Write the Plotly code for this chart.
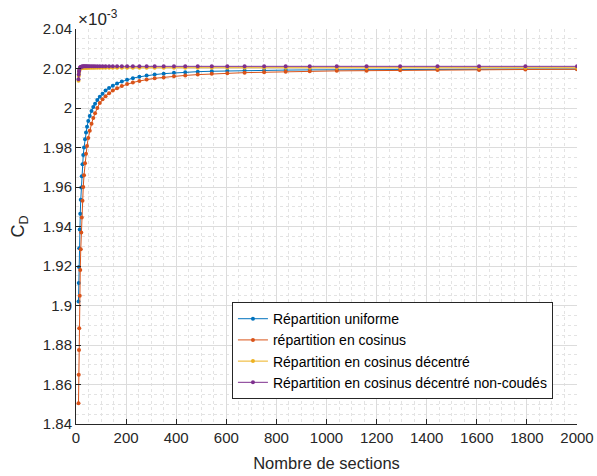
import plotly.graph_objects as go

# Number of sections (x values)
sections = [10, 11, 12, 13, 15, 17, 19, 21, 23, 26, 29, 32, 36, 40, 44, 49, 55, 62, 69, 76,
            85, 95, 106, 118, 132, 147, 164, 183, 204, 227, 253, 282, 314, 350, 391, 436,
            486, 542, 604, 673, 751, 837, 933, 1041, 1160, 1294, 1443, 1609, 1794, 2000]

# C_D values (x 1e-3)
cd_uniforme = [1.9020, 1.9114, 1.9195, 1.9290, 1.9385, 1.9465, 1.9535, 1.9598, 1.9655, 1.9715,
               1.9762, 1.9800, 1.9842, 1.9876, 1.9905, 1.9934, 1.9960, 1.9985, 2.0005, 2.0022,
               2.0040, 2.0057, 2.0072, 2.0088, 2.0101, 2.0113, 2.0124, 2.0134, 2.0143, 2.0151,
               2.0158, 2.0164, 2.0169, 2.0174, 2.0178, 2.0181, 2.0184, 2.0186, 2.0188, 2.0190,
               2.0191, 2.0192, 2.0193, 2.0194, 2.0195, 2.0195, 2.0196, 2.0196, 2.0197, 2.0197]

cd_cosinus = [1.8505, 1.8650, 1.8775, 1.8885, 1.9050, 1.9180, 1.9285, 1.9370, 1.9445, 1.9530,
              1.9600, 1.9660, 1.9720, 1.9768, 1.9808, 1.9848, 1.9885, 1.9920, 1.9950, 1.9974,
              2.0000, 2.0025, 2.0044, 2.0060, 2.0075, 2.0088, 2.0100, 2.0111, 2.0121, 2.0129,
              2.0137, 2.0144, 2.0150, 2.0155, 2.0161, 2.0165, 2.0169, 2.0173, 2.0176, 2.0179,
              2.0181, 2.0184, 2.0186, 2.0188, 2.0189, 2.0191, 2.0192, 2.0193, 2.0195, 2.0196]

cd_decentre = [2.0138, 2.0162, 2.0177, 2.0187, 2.0196, 2.0200, 2.0202, 2.0203, 2.0204, 2.0204,
               2.0204, 2.0204, 2.0204, 2.0204, 2.0204, 2.0204, 2.0204, 2.0204, 2.0204, 2.0204,
               2.0204, 2.0204, 2.0204, 2.0204, 2.0204, 2.0204, 2.0204, 2.0204, 2.0204, 2.0204,
               2.0204, 2.0204, 2.0204, 2.0204, 2.0204, 2.0204, 2.0204, 2.0204, 2.0204, 2.0204,
               2.0204, 2.0204, 2.0204, 2.0204, 2.0204, 2.0204, 2.0204, 2.0204, 2.0204, 2.0204]

cd_non_coudes = [2.0145, 2.0170, 2.0185, 2.0194, 2.0202, 2.0206, 2.0208, 2.0209, 2.0210, 2.0210,
                 2.0211, 2.0211, 2.0211, 2.0211, 2.0211, 2.0211, 2.0211, 2.0211, 2.0211, 2.0211,
                 2.0211, 2.0211, 2.0211, 2.0211, 2.0211, 2.0211, 2.0211, 2.0211, 2.0211, 2.0211,
                 2.0211, 2.0211, 2.0211, 2.0211, 2.0211, 2.0211, 2.0211, 2.0211, 2.0211, 2.0211,
                 2.0211, 2.0211, 2.0211, 2.0211, 2.0211, 2.0211, 2.0211, 2.0211, 2.0211, 2.0211]

series_names = ["Répartition uniforme", "répartition en cosinus",
                "Répartition en cosinus décentré", "Répartition en cosinus décentré non-coudés"]
series_colors = ["#0072BD", "#D95319", "#EDB120", "#7E2F8E"]

y_tickvals = [1.84, 1.86, 1.88, 1.90, 1.92, 1.94, 1.96, 1.98, 2.00, 2.02, 2.04]
y_ticktext = ["1.84", "1.86", "1.88", "1.9", "1.92", "1.94", "1.96", "1.98", "2", "2.02", "2.04"]
x_tickvals = [0, 200, 400, 600, 800, 1000, 1200, 1400, 1600, 1800, 2000]
x_ticktext = ["0", "200", "400", "600", "800", "1000", "1200", "1400", "1600", "1800", "2000"]

FONT = "Liberation Sans, Arial, Helvetica, sans-serif"

fig = go.Figure()
for name, vals, col in zip(series_names,
                           [cd_uniforme, cd_cosinus, cd_decentre, cd_non_coudes],
                           series_colors):
    fig.add_trace(go.Scatter(x=sections, y=vals, name=name, mode="lines+markers",
                             line=dict(color=col, width=1),
                             marker=dict(color=col, size=4, symbol="circle")))

axis_common = dict(
    showline=True, linecolor="#262626", linewidth=1,
    ticks="inside", ticklen=5, tickcolor="#262626",
    tickfont=dict(family=FONT, size=15, color="#262626"),
    showgrid=True, gridcolor="#dcdcdc", gridwidth=1,
    zeroline=False, mirror=False, automargin=False,
    ticklabeloverflow="allow",
)

fig.update_xaxes(range=[0, 2000], tickvals=x_tickvals, ticktext=x_ticktext,
                 title=dict(text="Nombre de sections", font=dict(family=FONT, size=16.5, color="#262626"),
                            standoff=12),
                 minor=dict(dtick=50, tick0=0, showgrid=True, gridcolor="#e3e3e3",
                            griddash="dot", gridwidth=1),
                 **axis_common)
fig.update_yaxes(range=[1.84, 2.04], tickvals=y_tickvals, ticktext=y_ticktext,
                 title=dict(text="C<sub>D</sub>", font=dict(family=FONT, size=18, color="#262626"),
                            standoff=13),
                 minor=dict(dtick=0.005, tick0=1.84, showgrid=True, gridcolor="#e3e3e3",
                            griddash="dot", gridwidth=1),
                 **axis_common)

fig.add_annotation(xref="paper", yref="paper", x=0.0, y=1.0, xanchor="left", yanchor="bottom",
                   text="×10<sup>-3</sup>", showarrow=False, yshift=-2,
                   font=dict(family=FONT, size=17, color="#262626"))

fig.update_layout(
    width=597, height=476,
    margin=dict(l=76, r=20, t=29, b=52, autoexpand=False),
    paper_bgcolor="white", plot_bgcolor="white",
    font=dict(family=FONT, color="#262626"),
    legend=dict(x=0.952, y=0.063, xanchor="right", yanchor="bottom",
                bgcolor="white", bordercolor="#262626", borderwidth=1,
                font=dict(family=FONT, size=14, color="#000000"),
                tracegroupgap=0, itemsizing="trace"),
)

fig.write_html("out.html", config={"displayModeBar": False},
               post_script="document.body.style.margin='0';document.body.style.padding='0';")
